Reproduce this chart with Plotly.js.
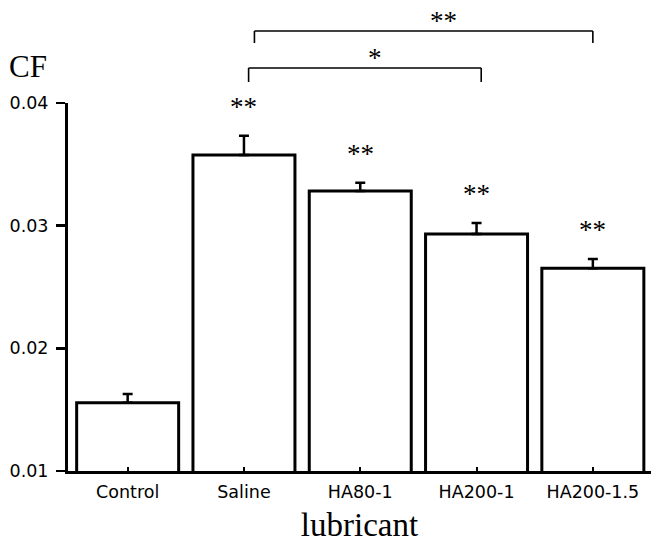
<!DOCTYPE html>
<html>
<head>
<meta charset="utf-8">
<script src="https://cdn.plot.ly/plotly-3.0.1.min.js"></script>
<style>html,body{margin:0;padding:0;background:#fff;}#chart{width:652px;height:543px;}</style>
</head>
<body>
<div id="chart"></div>
<script>
const categories = ['Control', 'Saline', 'HA80-1', 'HA200-1', 'HA200-1.5'];
const cfMean = [0.01557, 0.03576, 0.03283, 0.02932, 0.02652];
const cfError = [0.0007, 0.00157, 0.00067, 0.0009, 0.00076];
const barMarks = ['', '**', '**', '**', '**'];
const yTickVals = [0.01, 0.02, 0.03, 0.04];
const yTickText = ['0.01', '0.02', '0.03', '0.04'];
// comparison brackets: [from category index, to category index, label]
const comparisons = [
  {from: 1, to: 3, label: '*'},
  {from: 1, to: 4, label: '**'}
];

const serif = '"Liberation Serif", "Times New Roman", serif';
const sans = '"DejaVu Sans", sans-serif';

const trace = {
  type: 'bar',
  x: categories,
  y: cfMean,
  base: 0,
  marker: {color: '#ffffff', line: {color: '#000000', width: 3}},
  width: 0.877,
  error_y: {
    type: 'data', array: cfError, arrayminus: cfError.map(() => 0), symmetric: false,
    color: '#000000', thickness: 2.5, width: 5
  },
  hoverinfo: 'skip'
};

const annotations = [];
categories.forEach((c, i) => {
  if (barMarks[i]) {
    annotations.push({
      x: c, y: cfMean[i] + cfError[i], xref: 'x', yref: 'y',
      text: barMarks[i], showarrow: false, yanchor: 'middle', yshift: 29,
      font: {family: serif, size: 27, color: '#000'}
    });
  }
});

// bracket geometry (styling offsets)
const bracketLevels = [{top: 1.0951, foot: 1.0571, dx0: 0.04, dx1: 0.04, tx: 2.13, ty: 1.13},
                       {top: 1.1957, foot: 1.163, dx0: 0.09, dx1: 0.0, tx: 2.72, ty: 1.232}];
const shapes = [];
comparisons.forEach((cmp, k) => {
  const lv = bracketLevels[k];
  const x0 = cmp.from + lv.dx0, x1 = cmp.to + lv.dx1;
  const ln = {color: '#000', width: 1.6};
  shapes.push({type: 'line', xref: 'x', yref: 'paper', x0: x0, x1: x1, y0: lv.top, y1: lv.top, line: ln});
  shapes.push({type: 'line', xref: 'x', yref: 'paper', x0: x0, x1: x0, y0: lv.top, y1: lv.foot, line: ln});
  shapes.push({type: 'line', xref: 'x', yref: 'paper', x0: x1, x1: x1, y0: lv.top, y1: lv.foot, line: ln});
  annotations.push({
    x: lv.tx, y: lv.ty, xref: 'x', yref: 'paper', text: cmp.label, showarrow: false,
    yanchor: 'middle', yshift: -3, font: {family: serif, size: 27, color: '#000'}
  });
});

annotations.push({
  x: -0.1046, y: 1.068, xref: 'paper', yref: 'paper', xanchor: 'left', yanchor: 'bottom',
  yshift: -8, text: 'CF', showarrow: false, font: {family: serif, size: 31, color: '#000'}
});

const layout = {
  width: 652, height: 543,
  margin: {l: 68, r: 1, t: 103, b: 72, pad: 0},
  paper_bgcolor: '#fff', plot_bgcolor: '#fff',
  showlegend: false,
  xaxis: {
    type: 'category', range: [-0.513, 4.5], showgrid: false, zeroline: false,
    showline: true, linecolor: '#000', linewidth: 3,
    ticks: 'inside', ticklen: 4, tickwidth: 2, tickcolor: '#000',
    ticklabelstandoff: 3,
    tickfont: {family: sans, size: 17.5, color: '#000'},
    title: {text: 'lubricant', font: {family: serif, size: 33, color: '#000'}, standoff: 26}
  },
  yaxis: {
    range: [0.01, 0.04], showgrid: false, zeroline: false,
    showline: true, linecolor: '#000', linewidth: 3,
    ticks: 'outside', ticklen: 9, tickwidth: 2.5, tickcolor: '#000',
    ticklabelstandoff: 4,
    tickvals: yTickVals, ticktext: yTickText,
    tickfont: {family: sans, size: 17.5, color: '#000'}
  },
  shapes: shapes,
  annotations: annotations
};

Plotly.newPlot('chart', [trace], layout, {displayModeBar: false, staticPlot: true});
</script>
</body>
</html>
